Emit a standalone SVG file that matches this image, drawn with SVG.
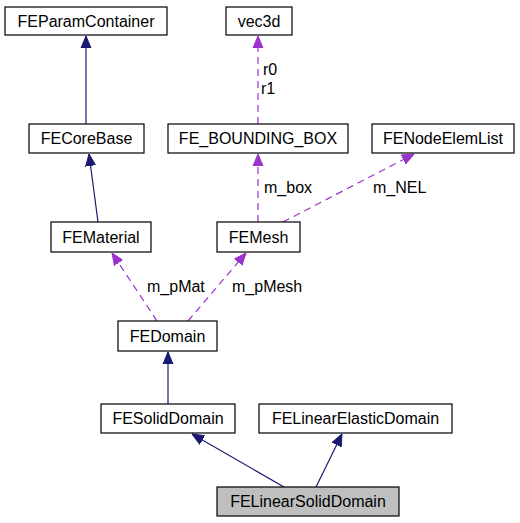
<svg xmlns="http://www.w3.org/2000/svg" width="520" height="523" viewBox="0 0 520 523">
<defs>
<style>
.node rect{fill:#fff;stroke:#000;stroke-width:1.2}
.node.cur rect{fill:#bfbfbf}
text{font-family:"Liberation Sans",Arial,sans-serif;font-size:16px;fill:#000}
.node text{text-anchor:middle}
.inh{stroke:#191970;stroke-width:1.2;fill:none;marker-end:url(#ai)}
.use{stroke:#9a32cd;stroke-width:1.2;fill:none;stroke-dasharray:7,5;marker-end:url(#au)}
</style>
<marker id="ai" markerUnits="userSpaceOnUse" markerWidth="12" markerHeight="12" viewBox="0 0 12 12" refX="12" refY="6" orient="auto"><path d="M0,1 L12,6 L0,11 z" fill="#191970" stroke="#191970"/></marker>
<marker id="au" markerUnits="userSpaceOnUse" markerWidth="12" markerHeight="12" viewBox="0 0 12 12" refX="12" refY="6" orient="auto"><path d="M0,1 L12,6 L0,11 z" fill="#9a32cd" stroke="#9a32cd"/></marker>
</defs>
<rect width="520" height="523" fill="#fff"/>
<g id="connectors">
<line class="inh" x1="86" y1="124" x2="86" y2="36"/>
<line class="inh" x1="98" y1="222" x2="89" y2="154"/>
<line class="use" x1="258" y1="124" x2="258" y2="36"/>
<line class="use" x1="258" y1="222" x2="258" y2="154"/>
<line class="use" x1="283" y1="222" x2="414" y2="154"/>
<line class="use" x1="157" y1="321" x2="112" y2="253"/>
<line class="use" x1="188" y1="321" x2="246" y2="253"/>
<line class="inh" x1="168" y1="404" x2="168" y2="352"/>
<line class="inh" x1="284" y1="487" x2="192" y2="434"/>
<line class="inh" x1="316" y1="487" x2="342" y2="434"/>
<text x="263" y="75">r0</text>
<text x="261" y="94">r1</text>
<text x="264" y="193">m_box</text>
<text x="373" y="193">m_NEL</text>
<text x="147" y="292">m_pMat</text>
<text x="232" y="292">m_pMesh</text>
</g>
<g id="FEParamContainer" class="node"><rect x="5" y="7" width="162" height="28"/><text x="86" y="27">FEParamContainer</text></g>
<g id="vec3d" class="node"><rect x="226" y="7" width="66" height="28"/><text x="259" y="27">vec3d</text></g>
<g id="FECoreBase" class="node"><rect x="29" y="124" width="115" height="29"/><text x="86.5" y="144">FECoreBase</text></g>
<g id="FE_BOUNDING_BOX" class="node"><rect x="168" y="124" width="180" height="29"/><text x="258" y="144">FE_BOUNDING_BOX</text></g>
<g id="FENodeElemList" class="node"><rect x="372" y="124" width="142" height="29"/><text x="443" y="144">FENodeElemList</text></g>
<g id="FEMaterial" class="node"><rect x="51" y="222" width="100" height="30"/><text x="101" y="243">FEMaterial</text></g>
<g id="FEMesh" class="node"><rect x="217" y="222" width="83" height="30"/><text x="258.5" y="243">FEMesh</text></g>
<g id="FEDomain" class="node"><rect x="118" y="321" width="99" height="30"/><text x="167.5" y="342">FEDomain</text></g>
<g id="FESolidDomain" class="node"><rect x="101" y="404" width="134" height="29"/><text x="168" y="424">FESolidDomain</text></g>
<g id="FELinearElasticDomain" class="node"><rect x="259" y="404" width="193" height="29"/><text x="355.5" y="424">FELinearElasticDomain</text></g>
<g id="FELinearSolidDomain" class="node cur"><rect x="217" y="487" width="182" height="29"/><text x="308" y="507">FELinearSolidDomain</text></g>
</svg>
